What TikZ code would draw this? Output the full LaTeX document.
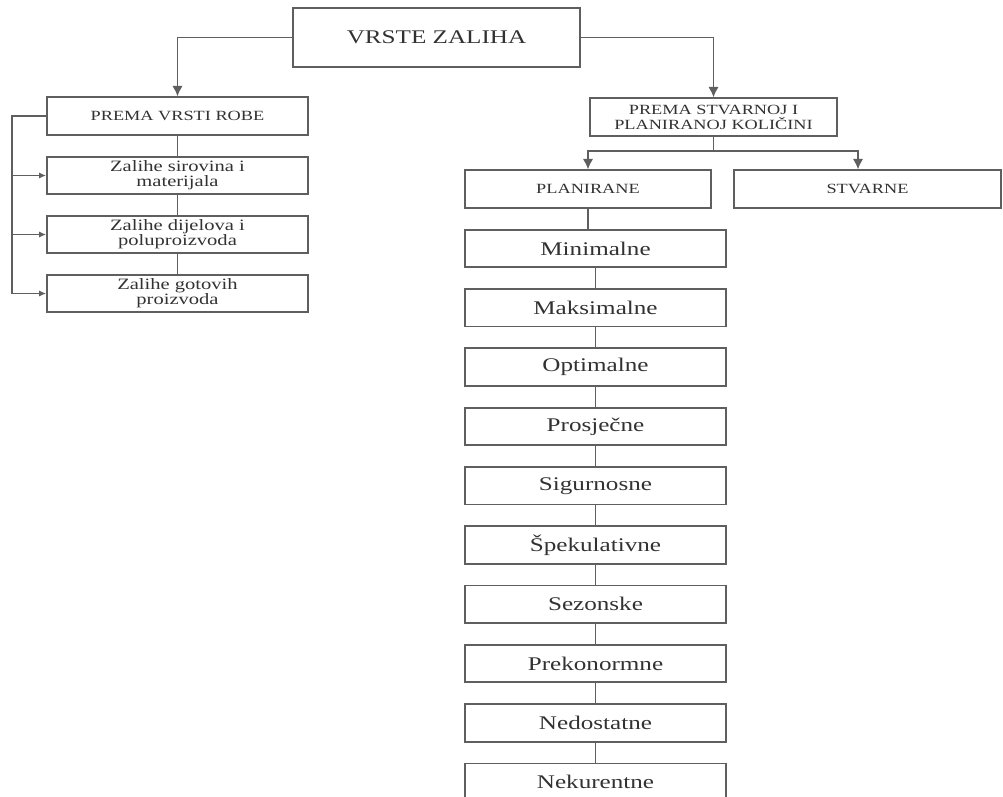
\documentclass[tikz,border=0pt]{standalone}
\usepackage{fontspec}
\setmainfont{Liberation Serif}[FakeStretch=1.3]
\usetikzlibrary{arrows.meta}
\definecolor{linec}{RGB}{95,95,95}
\definecolor{textc}{RGB}{50,50,50}
\tikzset{
  box/.style={draw=linec, line width=1pt, minimum height=0.75cm, inner sep=1pt, align=center, text=textc},
  headbox/.style={box, font=\fontsize{8}{8.5}\selectfont},
  robabox/.style={box, minimum width=5.22cm, font=\fontsize{9}{8.6}\selectfont},
  vrstabox/.style={box, minimum width=5.22cm, font=\fontsize{11}{13}\selectfont},
  conn/.style={draw=linec, line width=1pt},
  arr/.style={conn, -{Latex[length=6pt,width=6pt]}},
  smallarr/.style={conn, -{Latex[length=4pt,width=3.5pt]}}
}
\begin{document}
\begin{tikzpicture}[x=0.02cm, y=-0.02cm]
        \useasboundingbox (0,0) rectangle (1003,796);
        % top
        \node[box, minimum width=5.74cm, minimum height=1.18cm, font=\fontsize{11}{13}\selectfont] (vrste) at (436.5,37.5) {VRSTE ZALIHA};
        % left branch
        \node[headbox, minimum width=5.22cm] (robe) at (177.5,116) {PREMA VRSTI ROBE};
        \node[robabox] (sirov) at (177.5,175.5) {Zalihe sirovina i\\materijala};
        \node[robabox] (dijel) at (177.5,234.5) {Zalihe dijelova i\\poluproizvoda};
        \node[robabox] (gotov) at (177.5,293.5) {Zalihe gotovih\\proizvoda};
        \coordinate (lb) at (12,116);
        % right branch
        \node[headbox, minimum width=4.94cm] (kol) at (713.5,117) {PREMA STVARNOJ I\\PLANIRANOJ KOLIČINI};
        \node[headbox, minimum width=4.92cm] (plan) at (588,189) {PLANIRANE};
        \node[headbox, minimum width=5.34cm] (stv) at (867.5,189) {STVARNE};
        \coordinate (split) at (713.5,151);
        \node[vrstabox] (min) at (595.5,248.5) {Minimalne};
        \node[vrstabox] (maks) at (595.5,307.8) {Maksimalne};
        \node[vrstabox] (opt) at (595.5,367.1) {Optimalne};
        \node[vrstabox] (pros) at (595.5,426.4) {Prosječne};
        \node[vrstabox] (sig) at (595.5,485.7) {Sigurnosne};
        \node[vrstabox] (spek) at (595.5,545) {Špekulativne};
        \node[vrstabox] (sez) at (595.5,604.3) {Sezonske};
        \node[vrstabox] (prek) at (595.5,663.6) {Prekonormne};
        \node[vrstabox] (nedo) at (595.5,722.9) {Nedostatne};
        \node[vrstabox] (nekur) at (595.5,782.2) {Nekurentne};
        % connectors
        \draw[arr] (vrste.west) -| (robe.north);
        \draw[arr] (vrste.east) -| (kol.north);
        \draw[conn] (robe) -- (sirov) -- (dijel) -- (gotov);
        \draw[conn] (robe.west) -- (lb) -- (lb |- gotov.west);
        \draw[smallarr] (lb |- sirov.west) -- (sirov.west);
        \draw[smallarr] (lb |- dijel.west) -- (dijel.west);
        \draw[smallarr] (lb |- gotov.west) -- (gotov.west);
        \draw[conn] (kol.south) -- (split);
        \draw[arr] (split) -| (plan.north);
        \draw[arr] (split) -| ([xshift=-0.19cm]stv.north);
        \draw[conn] (plan.south) -- (plan.south |- min.north);
        \draw[conn] (min) -- (maks) -- (opt) -- (pros) -- (sig) -- (spek) -- (sez) -- (prek) -- (nedo) -- (nekur);
\end{tikzpicture}
\end{document}
